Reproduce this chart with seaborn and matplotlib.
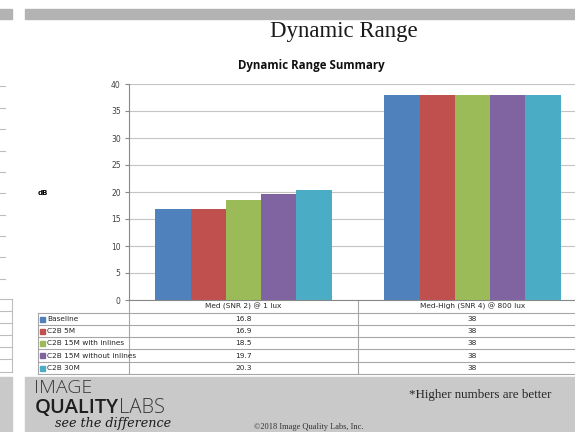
import pandas as pd
import seaborn as sns
import matplotlib.pyplot as plt
from matplotlib.patches import Rectangle

# Data
categories = ["Med (SNR 2) @ 1 lux", "Med-High (SNR 4) @ 800 lux"]
series = ["Baseline", "C2B 5M", "C2B 15M with inlines", "C2B 15M without inlines", "C2B 30M"]
med_snr2 = [16.8, 16.9, 18.5, 19.7, 20.3]
med_high_snr4 = [38, 38, 38, 38, 38]
colors = ["#4F81BD", "#C0504D", "#9BBB59", "#8064A2", "#4BACC6"]
yticks = [0, 5, 10, 15, 20, 25, 30, 35, 40]

df = pd.DataFrame({
    "category": [categories[0]] * len(series) + [categories[1]] * len(series),
    "series": series * 2,
    "dB": med_snr2 + med_high_snr4,
})

W, H = 575, 432
fig = plt.figure(figsize=(5.75, 4.32), dpi=100)


def px_box(x0, y0, x1, y1):
    # pixel box (top-left origin) -> figure fraction rect
    return [x0 / W, 1 - y1 / H, (x1 - x0) / W, (y1 - y0) / H]


# slide background layer in pixel coords
bg = fig.add_axes([0, 0, 1, 1])
bg.set_xlim(0, W)
bg.set_ylim(H, 0)
bg.axis("off")

bg.add_patch(Rectangle((25, 9), 550, 10, color="#B3B3B3"))
bg.add_patch(Rectangle((0, 9), 12, 10, color="#B3B3B3"))
bg.add_patch(Rectangle((25, 377), 550, 55, color="#C9C9C9"))
bg.add_patch(Rectangle((0, 377), 12, 55, color="#C9C9C9"))

# leftover bits of the neighbouring slide
for y in [86, 108, 129, 151, 172, 193, 215, 236, 257, 279]:
    bg.plot([0, 5], [y, y], color="#BDBDBD", lw=0.8)
for y in [299, 311, 323, 335, 347, 359, 372]:
    bg.plot([0, 12], [y, y], color="#BDBDBD", lw=0.8)
bg.plot([12, 12], [299, 372], color="#BDBDBD", lw=0.8)

bg.text(344, 31, "Dynamic Range", family="Liberation Serif", fontsize=16.5,
        ha="center", va="center", color="#1a1a1a")
bg.text(311, 66, "Dynamic Range Summary", family="Open Sans", fontsize=8.3,
        fontweight="bold", ha="center", va="center", color="#111111")
bg.text(43, 193, "dB", fontsize=5, fontweight="bold", ha="center", va="center")

# bar chart
ax = fig.add_axes(px_box(129, 84, 587, 300))
sns.barplot(data=df, x="category", y="dB", hue="series", palette=colors,
            width=0.77, saturation=1, linewidth=0, legend=False, ax=ax)
ax.set_ylim(0, 40)
ax.set_yticks(yticks)
ax.yaxis.grid(True, color="#C4C4C4", lw=0.8)
ax.set_axisbelow(True)
ax.set_xlabel("")
ax.set_ylabel("")
ax.tick_params(axis="x", length=0, labelbottom=False)
ax.tick_params(axis="y", length=3, color="#888888", labelsize=5.5,
               labelcolor="#404040", pad=3)
for s in ["top", "right"]:
    ax.spines[s].set_visible(False)
ax.spines["left"].set_color("#888888")
ax.spines["bottom"].set_color("#888888")
ax.patch.set_alpha(0)

# data table under the chart
line_c = "#A6A6A6"
row_y = [313, 325, 337, 349, 362, 374]
col_x = [129, 358, 587]
for y in row_y:
    bg.plot([38, 587], [y, y], color=line_c, lw=0.8)
bg.plot([38, 38], [313, 374], color=line_c, lw=0.8)
for x in col_x[:2]:
    bg.plot([x, x], [300, 374], color=line_c, lw=0.8)

for j, cat in enumerate(categories):
    cx = (col_x[j] + col_x[j + 1]) / 2
    bg.text(cx, 306.5, cat, fontsize=5.3, ha="center", va="center", color="#262626")

for i, name in enumerate(series):
    cy = (row_y[i] + row_y[i + 1]) / 2
    bg.add_patch(Rectangle((40, cy - 2.5), 5, 5, color=colors[i]))
    bg.text(47, cy, name, fontsize=5.3, ha="left", va="center", color="#262626")
    for j, vals in enumerate([med_snr2, med_high_snr4]):
        cx = (col_x[j] + col_x[j + 1]) / 2
        bg.text(cx, cy, f"{vals[i]:g}", fontsize=5.3, ha="center", va="center",
                color="#262626")

# footer
bg.text(34, 388, "IMAGE", family="Open Sans", fontsize=14, fontweight="light",
        ha="left", va="center", color="#3a3a3a")
q = bg.text(35, 408, "QUALITY", family="Open Sans", fontsize=14.5, fontweight="semibold",
            ha="left", va="center", color="#1e1e1e")
fig.canvas.draw()
q_right = bg.transData.inverted().transform(
    q.get_window_extent(fig.canvas.get_renderer()))[1][0]
bg.text(q_right, 408, "LABS", family="Open Sans", fontsize=14.5, fontweight="light",
        ha="left", va="center", color="#3a3a3a")
bg.text(55, 424, "see the difference", family="DejaVu Serif", fontsize=9.2,
        style="italic", ha="left", va="center", color="#1a1a1a")
bg.text(309, 427, "©2018 Image Quality Labs, Inc.", family="Liberation Serif",
        fontsize=6, ha="center", va="center", color="#333333")
bg.text(480, 395, "*Higher numbers are better", family="Liberation Serif",
        fontsize=9.4, ha="center", va="center", color="#262626")

fig.savefig("out.png", dpi=100)
